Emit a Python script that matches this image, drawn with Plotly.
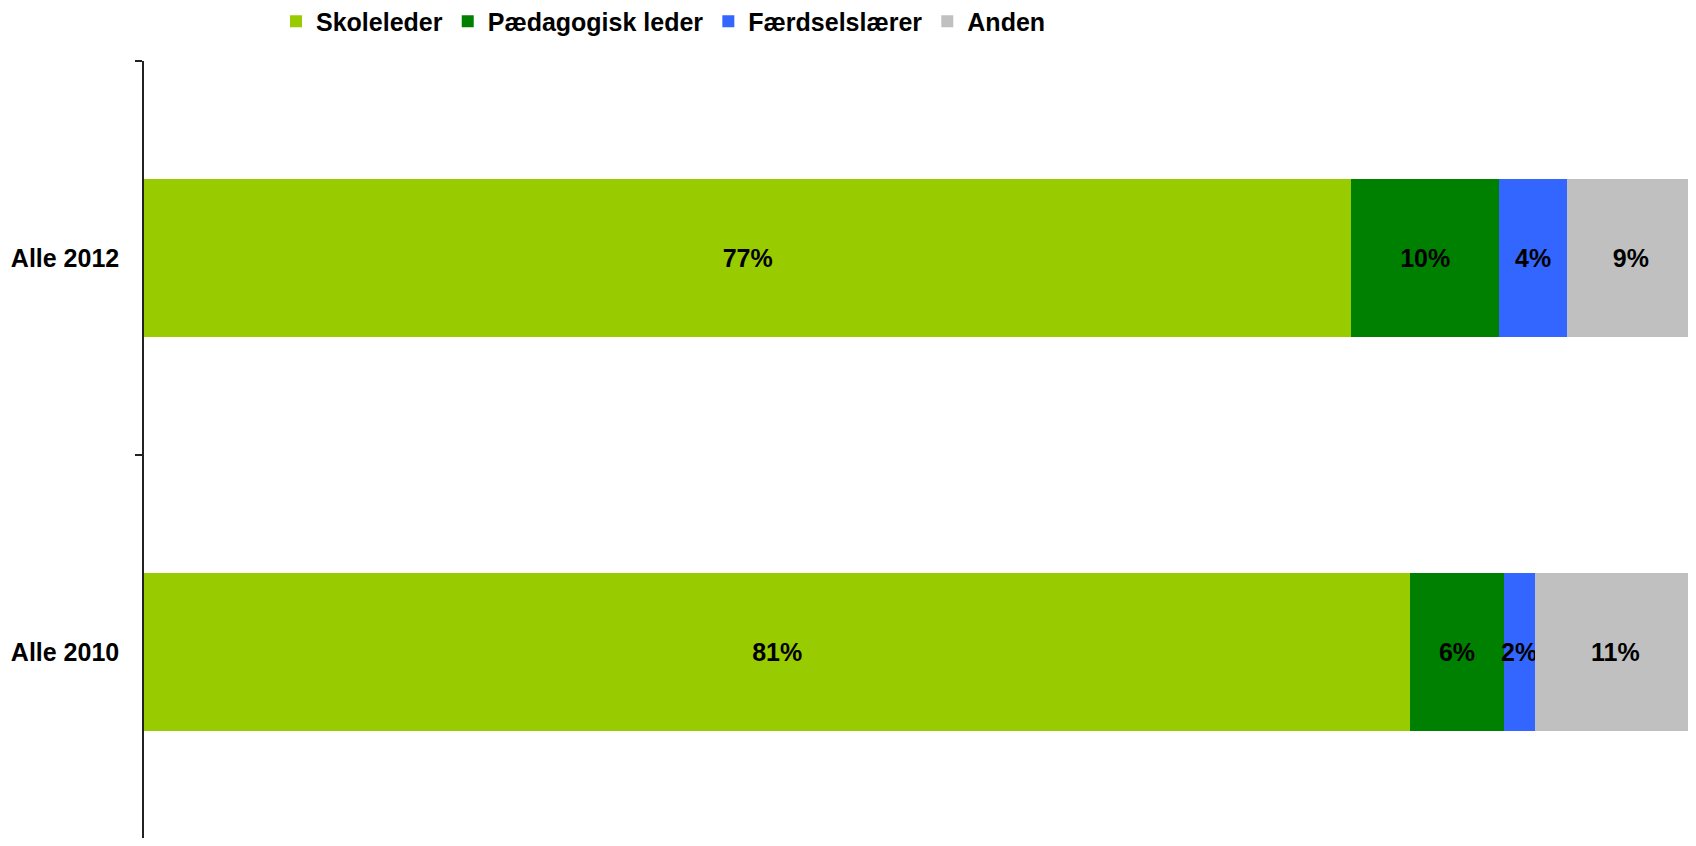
import plotly.graph_objects as go

categories = ["Alle 2010", "Alle 2012"]
series_names = ["Skoleleder", "Pædagogisk leder", "Færdselslærer", "Anden"]
skoleleder = [81.6, 77.8]
paedagogisk = [6.0, 9.5]
faerdsel = [2.0, 4.4]
anden = [10.4, 8.2]
skoleleder_lbl = ["81%", "77%"]
paedagogisk_lbl = ["6%", "10%"]
faerdsel_lbl = ["2%", "4%"]
anden_lbl = ["11%", "9%"]
colors = ["#99CC00", "#008000", "#3366FF", "#C0C0C0"]

values = [skoleleder, paedagogisk, faerdsel, anden]
labels = [skoleleder_lbl, paedagogisk_lbl, faerdsel_lbl, anden_lbl]

FONT = "Liberation Sans, Arial, sans-serif"
W, H = 1688, 830  # page body has an 8px margin

fig = go.Figure()
for name, vals, lbls, col in zip(series_names, values, labels, colors):
    fig.add_trace(go.Bar(
        y=categories, x=vals, name=name, orientation="h",
        marker=dict(color=col, line=dict(width=0)),
        text=lbls, textposition="inside", insidetextanchor="middle",
        textangle=0, constraintext="none",
        textfont=dict(family=FONT, size=25, color="black", weight="bold"),
        hoverinfo="skip",
    ))

fig.update_layout(
    template="none",
    barmode="stack",
    bargap=0.6,
    width=W, height=H,
    margin=dict(l=136, r=0, t=53, b=0, autoexpand=False),
    paper_bgcolor="white", plot_bgcolor="white",
    showlegend=True,
    legend=dict(
        orientation="h", xref="container", yref="container",
        x=268 / W, xanchor="left", y=1 - 13.6 / H, yanchor="middle",
        font=dict(family=FONT, size=25, color="black", weight="bold"),
        bgcolor="rgba(0,0,0,0)", borderwidth=0,
        traceorder="normal",
    ),
    xaxis=dict(range=[0, 100], visible=False, fixedrange=True, automargin=False),
    yaxis=dict(
        type="category", categoryorder="array", categoryarray=categories,
        range=[-0.472, 1.5], automargin=False,
        showline=True, linecolor="#222222", linewidth=1.5,
        ticks="outside", tickson="boundaries", ticklen=7, tickcolor="#222222", tickwidth=1.5,
        showgrid=False, zeroline=False,
        tickfont=dict(family=FONT, size=25, color="black", weight="bold"),
        ticklabelstandoff=18,
    ),
)

fig.write_html("out.html")
